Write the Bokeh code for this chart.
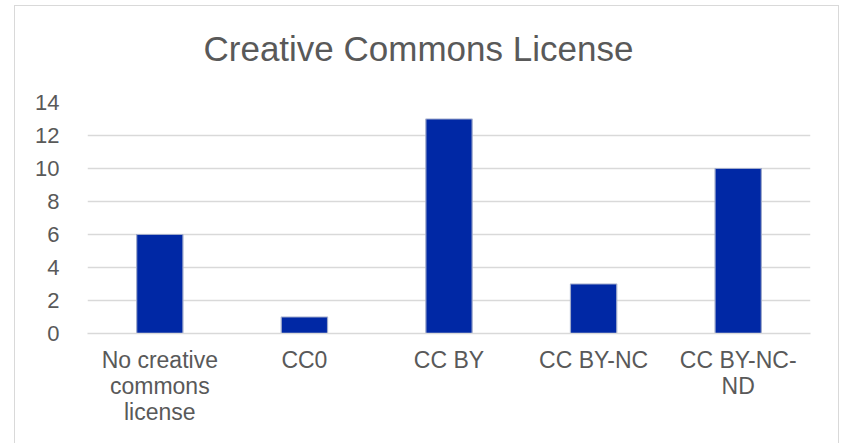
from bokeh.plotting import figure
from bokeh.models import Range1d, FixedTicker, ColumnDataSource, Title
from bokeh.embed import file_html
from bokeh.resources import INLINE

categories = ["No creative\ncommons\nlicense", "CC0", "CC BY", "CC BY-NC", "CC BY-NC-\nND"]
counts = [6, 1, 13, 3, 10]
y_ticks = [0, 2, 4, 6, 8, 10, 12, 14]
title_text = "Creative Commons License"

FONT = "Liberation Sans"
TXT = "#595959"
GRID = "#D9D9D9"

p = figure(width=825, height=438, x_range=categories, y_range=Range1d(0, 14),
           output_backend="svg", toolbar_location=None, title=None,
           min_border_left=72, min_border_right=30, min_border_top=96, min_border_bottom=111)
p.margin = (5, 0, 0, 14)
p.styles = {"border-style": "solid", "border-color": GRID, "border-width": "1px 1px 0 1px"}
p.outline_line_color = None
p.background_fill_color = "white"
p.border_fill_color = "white"

src = ColumnDataSource(dict(cat=categories, n=counts))
p.vbar(x="cat", top="n", width=0.32, source=src, fill_color="#0028A5",
       line_color="#9FAACB", line_width=1.2)

p.xgrid.grid_line_color = None
p.ygrid.grid_line_color = GRID
p.ygrid.grid_line_width = 1.5
p.ygrid.ticker = FixedTicker(ticks=y_ticks)

p.yaxis.ticker = FixedTicker(ticks=y_ticks)
p.yaxis.axis_line_color = None
p.yaxis.major_tick_line_color = None
p.yaxis.minor_tick_line_color = None
p.yaxis.major_label_standoff = 22
p.yaxis.major_label_text_font = FONT
p.yaxis.major_label_text_font_size = "22px"
p.yaxis.major_label_text_color = TXT

p.xaxis.axis_line_color = GRID
p.xaxis.axis_line_width = 1.5
p.xaxis.major_tick_line_color = None
p.xaxis.minor_tick_line_color = None
p.xaxis.major_label_standoff = 7
p.xaxis.major_label_text_font = FONT
p.xaxis.major_label_text_font_size = "23px"
p.xaxis.major_label_text_color = TXT
p.xaxis.major_label_text_line_height = 1.0
p.x_range.range_padding = 0

# spacer panel nearest the frame, then the real title above it
spacer = Title(text=" ", text_font_size="1px", standoff=12)
p.add_layout(spacer, "above")
main_title = Title(text=title_text, text_font=FONT, text_font_size="35px",
                   text_font_style="normal", text_color=TXT, align="left",
                   offset=116, standoff=40)
p.add_layout(main_title, "above")

open("out.html", "w").write(file_html(p, INLINE))
